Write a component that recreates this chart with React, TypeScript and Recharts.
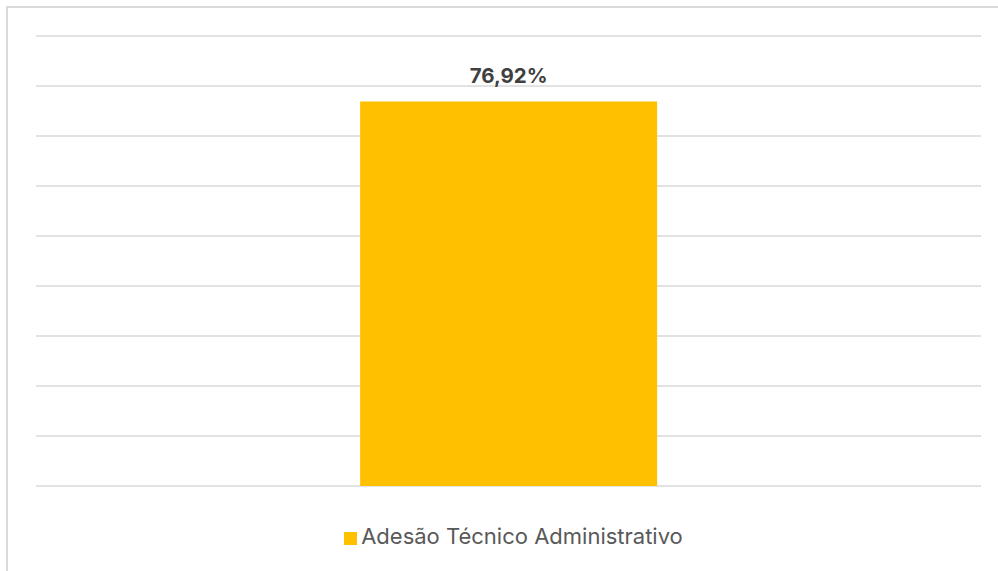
import React from "react";
import { BarChart, Bar, XAxis, YAxis, CartesianGrid, Legend, LabelList } from "recharts";

const categories = ["Adesão"];
const seriesName = "Adesão Técnico Administrativo";
const seriesValues = [76.92];
const yTicks = [0, 10, 20, 30, 40, 50, 60, 70, 80, 90];

const data = categories.map((c, i) => ({ name: c, value: seriesValues[i] }));

const fmt = (v: any) => `${Number(v).toFixed(2).replace(".", ",")}%`;

export default function App() {
  return (
    <div style={{ position: "fixed", left: 0, top: 0, width: 998, height: 571, overflow: "hidden", background: "#fff" }}>
      <div
        style={{
          position: "absolute",
          left: 6,
          top: 6,
          width: 1010,
          height: 600,
          border: "2px solid #d9d9d9",
          boxSizing: "border-box",
        }}
      />
      <div style={{ position: "absolute", left: 0, top: 0 }}>
        <BarChart
          width={998}
          height={571}
          data={data}
          margin={{ top: 36, right: 17, left: 36, bottom: 59 }}
          barCategoryGap="34.3%"
        >
          <CartesianGrid vertical={false} stroke="#d9d9d9" strokeWidth={1.5} />
          <XAxis dataKey="name" hide />
          <YAxis hide domain={[0, 90]} ticks={yTicks} interval={0} />
          <Legend
            verticalAlign="bottom"
            align="center"
            iconType="square"
            iconSize={13}
            wrapperStyle={{ top: 523, left: 46, fontFamily: "Inter, 'Noto Sans', sans-serif", fontSize: 22 }}
            formatter={(v: any) => <span style={{ color: "#595959" }}>{v}</span>}
          />
          <Bar dataKey="value" name={seriesName} fill="#ffc000" isAnimationActive={false}>
            <LabelList
              dataKey="value"
              position="top"
              offset={18}
              formatter={fmt}
              style={{ fill: "#404040", fontWeight: 700, fontSize: 20.5, fontFamily: "Inter, 'Noto Sans', sans-serif" }}
            />
          </Bar>
        </BarChart>
      </div>
    </div>
  );
}
